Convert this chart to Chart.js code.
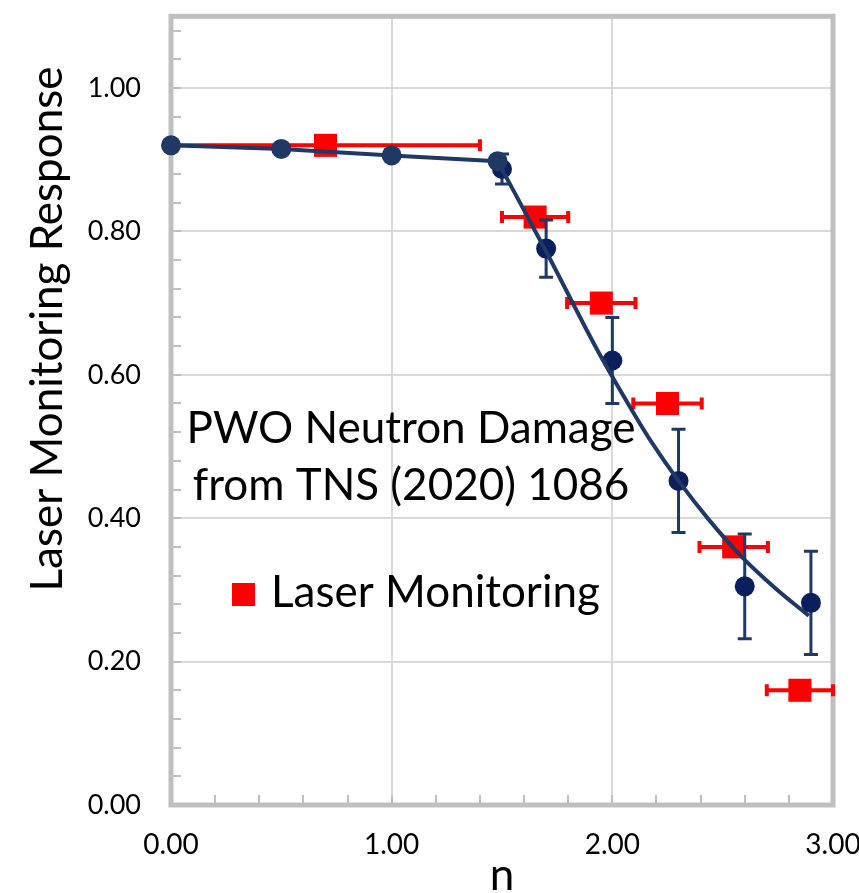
<!DOCTYPE html>
<html lang="en">
<head>
<meta charset="UTF-8">
<title>PWO Neutron Damage</title>
<script src="https://cdn.jsdelivr.net/npm/chart.js"></script>
<style>
  html, body { margin: 0; padding: 0; background: #fff; }
  #wrap { width: 859px; height: 893px; }
</style>
</head>
<body>
<div id="wrap"><canvas id="chart"></canvas></div>
<script>
// laser monitoring (red squares, horizontal error bars)
const laserX = [0.70, 1.65, 1.95, 2.25, 2.55, 2.85];
const laserY = [0.92, 0.82, 0.70, 0.56, 0.36, 0.16];
const laserXErr = [0.70, 0.15, 0.155, 0.155, 0.155, 0.15];

// neutron damage points (blue circles, vertical error bars)
const damageX = [1.5, 1.7, 2.0, 2.3, 2.6, 2.9];
const damageY = [0.887, 0.776, 0.62, 0.452, 0.305, 0.282];
const damageYErr = [0.021, 0.04, 0.06, 0.072, 0.073, 0.072];

// low dose points, straight segments
const lowX = [0, 0.5, 1.0, 1.48];
const lowY = [0.92, 0.915, 0.906, 0.898];

// fitted curve above n = 1.48
const fitX = [1.48, 1.7, 1.94, 2.09, 2.18, 2.3, 2.44, 2.59, 2.74, 2.89];
const fitY = [0.898, 0.772, 0.630, 0.550, 0.505, 0.452, 0.397, 0.345, 0.302, 0.264];

const xTicks = [0, 1, 2, 3];
const yTicks = [0, 0.2, 0.4, 0.6, 0.8, 1.0];

const FONT = "Lato, 'Open Sans', sans-serif";
const NAVY = '#1F3864';
const NAVY_DARK = '#0B1F5C';
const RED = '#FF0000';

function pts(xs, ys) {
    return xs.map((x, i) => ({ x: x, y: ys[i] }));
}

// frame, minor ticks, error bars and the text boxes
const decor = {
    id: 'decor',
    beforeDatasetsDraw(chart) {
        const { ctx, chartArea: a, scales: { x, y } } = chart;
        ctx.save();
        ctx.strokeStyle = '#bfbfbf';
        ctx.lineWidth = 2;
        ctx.beginPath();
        for (let i = 1; i < 28; i++) {
            const py = Math.round(y.getPixelForValue(i * 0.04));
            ctx.moveTo(a.left, py);
            ctx.lineTo(a.left + 10, py);
        }
        for (let i = 1; i < 15; i++) {
            const px = Math.round(x.getPixelForValue(i * 0.2));
            ctx.moveTo(px, a.bottom);
            ctx.lineTo(px, a.bottom - 10);
        }
        ctx.stroke();
        ctx.lineWidth = 5;
        ctx.strokeRect(a.left, a.top, a.right - a.left, a.bottom - a.top);
        ctx.restore();
    },
    beforeDatasetDraw(chart, args) {
        const ds = chart.data.datasets[args.index];
        const { ctx, scales: { x, y } } = chart;
        if (!ds.xErr && !ds.yErr) return;
        ctx.save();
        ctx.strokeStyle = ds.errColor;
        ctx.lineWidth = ds.errWidth;
        ctx.beginPath();
        ds.data.forEach((p, i) => {
            const px = x.getPixelForValue(p.x);
            const py = y.getPixelForValue(p.y);
            if (ds.xErr) {
                const x0 = x.getPixelForValue(p.x - ds.xErr[i]);
                const x1 = x.getPixelForValue(p.x + ds.xErr[i]);
                ctx.moveTo(x0, py); ctx.lineTo(x1, py);
                ctx.moveTo(x0, py - 6); ctx.lineTo(x0, py + 6);
                ctx.moveTo(x1, py - 6); ctx.lineTo(x1, py + 6);
            }
            if (ds.yErr) {
                const y0 = y.getPixelForValue(p.y - ds.yErr[i]);
                const y1 = y.getPixelForValue(p.y + ds.yErr[i]);
                ctx.moveTo(px, y0); ctx.lineTo(px, y1);
                ctx.moveTo(px - 7, y0); ctx.lineTo(px + 7, y0);
                ctx.moveTo(px - 7, y1); ctx.lineTo(px + 7, y1);
            }
        });
        ctx.stroke();
        ctx.restore();
    },
    afterDraw(chart) {
        const ctx = chart.ctx;
        ctx.save();
        ctx.fillStyle = '#000';
        ctx.font = '44px ' + FONT;
        ctx.textBaseline = 'alphabetic';
        // annotation
        ctx.textAlign = 'center';
        ctx.fillText('PWO Neutron Damage', 411, 443);
        ctx.fillText('from TNS (2020) 1086', 411, 500);
        // x title
        ctx.fillText('n', 502, 890);
        // legend
        ctx.textAlign = 'left';
        ctx.fillText('Laser Monitoring', 271, 607);
        ctx.fillStyle = RED;
        ctx.fillRect(232, 583, 23, 23);
        // y title
        ctx.fillStyle = '#000';
        ctx.translate(62, 329);
        ctx.rotate(-Math.PI / 2);
        ctx.textAlign = 'center';
        ctx.fillText('Laser Monitoring Response', 0, 0);
        ctx.restore();
    }
};

new Chart(document.getElementById('chart'), {
    type: 'scatter',
    data: {
        datasets: [
            {
                label: 'Fit',
                data: pts(fitX, fitY),
                showLine: true,
                borderColor: NAVY,
                borderWidth: 4,
                pointRadius: 0,
                cubicInterpolationMode: 'monotone',
                clip: false,
                order: 1
            },
            {
                label: 'Low dose',
                data: pts(lowX, lowY),
                showLine: true,
                borderColor: NAVY,
                backgroundColor: NAVY,
                borderWidth: 4,
                pointRadius: 10,
                pointBorderWidth: 0,
                clip: false,
                order: 1
            },
            {
                label: 'Neutron damage',
                data: pts(damageX, damageY),
                showLine: false,
                backgroundColor: NAVY_DARK,
                borderColor: NAVY_DARK,
                pointRadius: 10,
                pointBorderWidth: 0,
                yErr: damageYErr,
                errColor: NAVY,
                errWidth: 3,
                clip: false,
                order: 2
            },
            {
                label: 'Laser Monitoring',
                data: pts(laserX, laserY),
                showLine: false,
                pointStyle: 'rect',
                backgroundColor: RED,
                borderColor: RED,
                pointRadius: 16.3,
                pointBorderWidth: 0,
                xErr: laserXErr,
                errColor: RED,
                errWidth: 4,
                clip: false,
                order: 3
            }
        ]
    },
    options: {
        responsive: true,
        maintainAspectRatio: false,
        animation: false,
        events: [],
        layout: { padding: { top: 12, right: 26, left: 0, bottom: 0 } },
        plugins: {
            legend: { display: false },
            tooltip: { enabled: false }
        },
        scales: {
            x: {
                type: 'linear',
                min: 0,
                max: 3,
                afterBuildTicks: s => { s.ticks = xTicks.map(v => ({ value: v })); },
                afterFit: s => { s.height = 88; s.paddingLeft = 0; s.paddingRight = 0; },
                grid: { color: '#d9d9d9', lineWidth: 2, drawTicks: false },
                border: { display: false },
                ticks: {
                    padding: 23,
                    color: '#000',
                    font: { family: FONT, size: 28 },
                    callback: v => v.toFixed(2)
                }
            },
            y: {
                type: 'linear',
                min: 0,
                max: 1.1,
                afterBuildTicks: s => { s.ticks = yTicks.map(v => ({ value: v })); },
                afterFit: s => { s.width = 171; s.paddingTop = 0; s.paddingBottom = 0; },
                grid: { color: '#d9d9d9', lineWidth: 2, drawTicks: false },
                border: { display: false },
                ticks: {
                    padding: 30,
                    color: '#000',
                    font: { family: FONT, size: 27 },
                    callback: v => v.toFixed(2)
                }
            }
        }
    },
    plugins: [decor]
});
</script>
</body>
</html>
